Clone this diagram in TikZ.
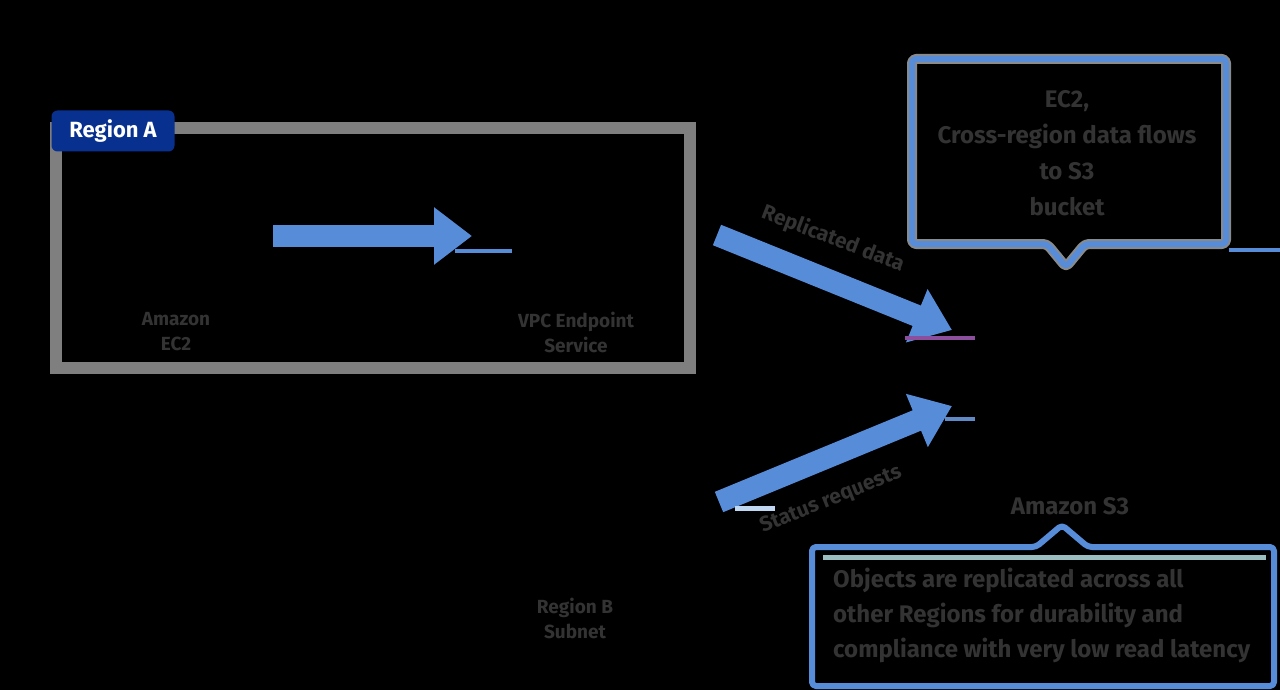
\documentclass[tikz,border=0pt]{standalone}
\usepackage{fontspec}
\setmainfont{Fira Sans}
\usetikzlibrary{arrows.meta}
\definecolor{bgc}{HTML}{000000}
\definecolor{flowblue}{HTML}{578DD8}
\definecolor{boxgray}{HTML}{7F7F7F}
\definecolor{txtgray}{HTML}{333333}
\definecolor{navy}{HTML}{08308F}
\definecolor{purp}{HTML}{8B4F9E}
\definecolor{paleblue}{HTML}{BFD7F0}
\definecolor{paleteal}{HTML}{9BBFC0}
\definecolor{haze}{HTML}{8A8A8A}
\tikzset{
  fatarrow/.style={draw=flowblue, line width=22pt, -{Triangle[length=38pt,width=55pt]}},
  lbl/.style={text=txtgray, font=\bfseries\fontsize{19}{25}\selectfont, align=center, inner sep=0pt},
  arrlbl/.style={text=txtgray, font=\bfseries\fontsize{21}{24}\selectfont, inner sep=0pt},
  biglbl/.style={text=txtgray, font=\bfseries\fontsize{24}{36}\selectfont, inner sep=0pt},
  callout/.style={draw=flowblue, line width=6pt, rounded corners=4pt, line join=round},
  thinline/.style={line width=4pt}
}
\begin{document}
\begin{tikzpicture}[x=1pt,y=-1pt]
\useasboundingbox (0,0) rectangle (1280,690);
\fill[bgc] (0,0) rectangle (1280,690);

% Region A
\draw[boxgray, line width=12pt] (56,128) rectangle (690,368);
\node[fill=navy, rounded corners=6pt, minimum width=123pt, minimum height=41pt, inner sep=0pt,
      text=white, font=\bfseries\fontsize{22}{24}\selectfont] (regA) at (113,131) {Region A};

\coordinate (a1s) at (273,236);
\coordinate (a1e) at (472,236);
\draw[fatarrow] (a1s) -- (a1e);
\coordinate (t1s) at (455,251);
\coordinate (t1e) at (512,251);
\draw[flowblue, thinline] (t1s) -- (t1e);

\node[lbl] (lblL) at (176,332) {Amazon\\EC2};
\node[lbl] (lblR) at (576,332) {VPC Endpoint\\Service};

% diagonal arrows
\coordinate (d1s) at (717,235);
\coordinate (d1e) at (952,330);
\draw[fatarrow] (d1s) -- (d1e);
\coordinate (d2s) at (719,502);
\coordinate (d2e) at (952,406);
\draw[fatarrow] (d2s) -- (d2e);

\node[arrlbl, rotate=-21] (lblU) at (833,239) {Replicated data};
\node[arrlbl, rotate=22] (lblD) at (831,500) {Status requests};

\coordinate (p1s) at (905,338);
\coordinate (p1e) at (975,338);
\draw[purp, thinline] (p1s) -- (p1e);
\coordinate (p2s) at (945,419);
\coordinate (p2e) at (975,419);
\draw[flowblue!80!gray, thinline] (p2s) -- (p2e);
\coordinate (p3s) at (735,508);
\coordinate (p3e) at (775,508);
\draw[paleblue, line width=5pt] (p3s) -- (p3e);

% top callout
\draw[haze, line width=10pt, rounded corners=4pt, line join=round]
  (912,59) -- (1226,59) -- (1226,244) -- (1085,244) -- (1066,267) -- (1047,244) -- (912,244) -- cycle;
\draw[callout]
  (912,59) -- (1226,59) -- (1226,244) -- (1085,244) -- (1066,267) -- (1047,244) -- (912,244) -- cycle;
\coordinate (c1s) at (1229,250);
\coordinate (c1e) at (1280,250);
\draw[flowblue, thinline] (c1s) -- (c1e);
\node[biglbl, align=center] (topnote) at (1067,153)
  {EC2,\\Cross-region data flows\\to S3\\bucket};

% label above bottom callout
\node[biglbl] (lblS3) at (1070,506) {Amazon S3};

% bottom callout
\draw[callout]
  (812,547) -- (1036,547) -- (1062,525) -- (1088,547) -- (1274,547) -- (1274,686) -- (812,686) -- cycle;
\coordinate (c2s) at (823,557);
\coordinate (c2e) at (1266,557);
\draw[paleteal, line width=5pt] (c2s) -- (c2e);
\node[biglbl, align=left, anchor=north west, font=\bfseries\fontsize{24}{35}\selectfont] (botnote) at (833,568)
  {Objects are replicated across all\\other Regions for durability and\\compliance with very low read latency};

% bottom-left label
\node[lbl] (lblB) at (575,618) {Region B\\Subnet};
\end{tikzpicture}
\end{document}
